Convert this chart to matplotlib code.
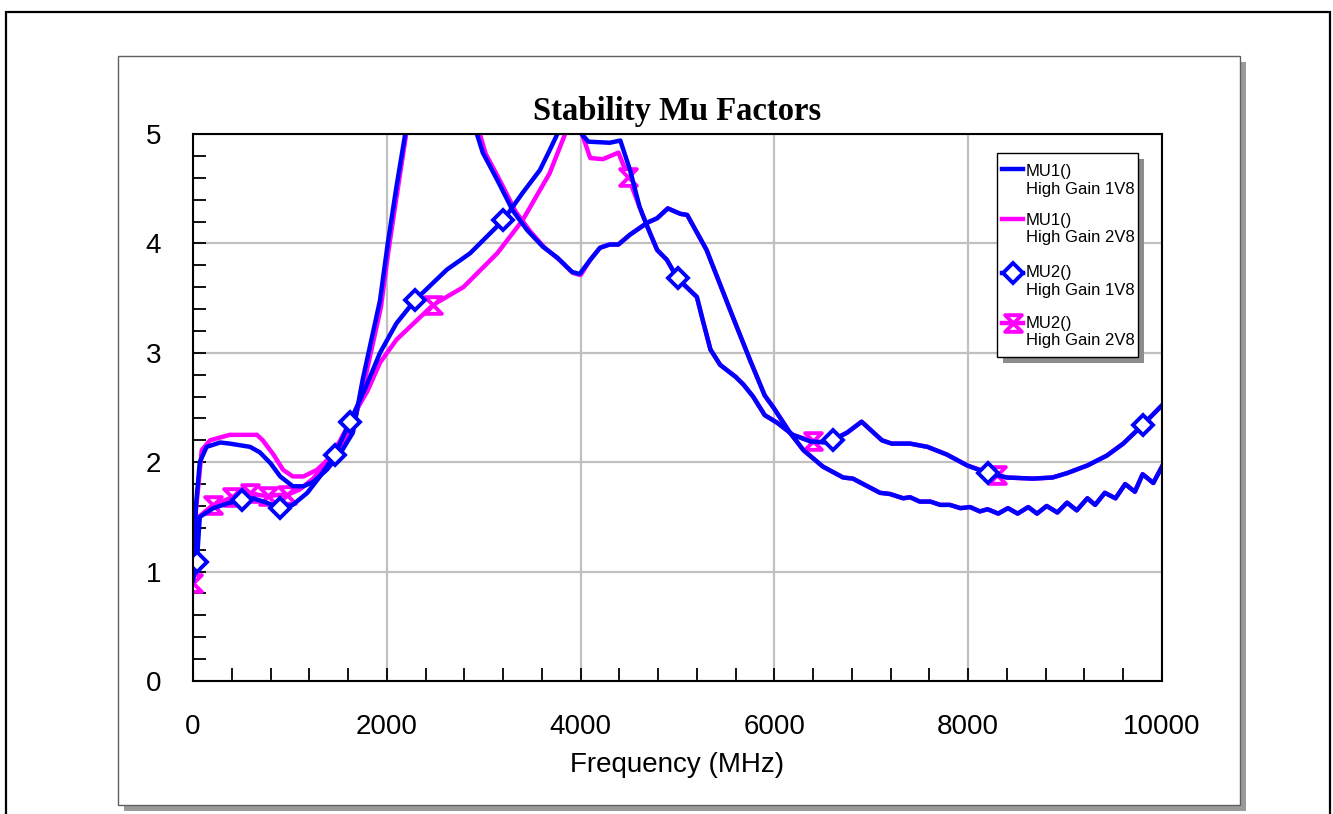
import matplotlib
matplotlib.use('Agg')
import matplotlib.pyplot as plt
from matplotlib.patches import Rectangle
from matplotlib.lines import Line2D
from matplotlib.path import Path
from matplotlib.ticker import MultipleLocator

# --- data (frequency in MHz, mu factor) ---
mu1_1v8_freq = [0, 30, 70, 140, 280, 380, 590, 690, 800, 900,
                1030, 1140, 1240, 1380, 1520, 1650, 1750, 1930, 2010, 2100,
                2190, 2400, 2600, 2800, 2930, 2990, 3140, 3300, 3450, 3610,
                3760, 3910, 3990, 4100, 4200, 4300, 4390, 4510, 4690, 4790,
                4900, 5030, 5100, 5300, 5570, 5750, 5900, 5990, 6160, 6300,
                6500, 6710, 6810, 7090, 7190, 7330, 7400, 7500, 7610, 7710,
                7810, 7920, 8020, 8120, 8200, 8310, 8410, 8510, 8620, 8710,
                8810, 8920, 9020, 9120, 9230, 9310, 9410, 9520, 9620, 9720,
                9800, 9910, 10000]
mu1_1v8 = [0.95, 1.60, 2.00, 2.14, 2.18, 2.17, 2.14, 2.09, 1.99, 1.87,
           1.78, 1.78, 1.82, 1.93, 2.08, 2.27, 2.75, 3.48, 4.00, 4.52,
           5.00, 6.30, 6.60, 5.70, 5.00, 4.83, 4.58, 4.30, 4.12, 3.97,
           3.87, 3.74, 3.72, 3.85, 3.96, 3.99, 3.99, 4.08, 4.19, 4.23,
           4.32, 4.27, 4.26, 3.94, 3.33, 2.93, 2.61, 2.50, 2.27, 2.11,
           1.96, 1.86, 1.85, 1.72, 1.71, 1.67, 1.68, 1.64, 1.64, 1.61,
           1.61, 1.58, 1.59, 1.55, 1.57, 1.53, 1.58, 1.53, 1.59, 1.53,
           1.60, 1.54, 1.63, 1.56, 1.67, 1.61, 1.72, 1.67, 1.80, 1.73,
           1.89, 1.81, 1.96]

# 2V8 MU1 differs below 4 GHz, then sits on top of the 1V8 trace
mu1_2v8_freq = [0, 30, 90, 175, 380, 660, 720, 830, 930, 1030,
                1140, 1280, 1410, 1520, 1650, 1760, 1940, 2020, 2110, 2200,
                2400, 2600, 2800, 2960, 3020, 3170, 3330, 3480, 3630, 3780,
                3920, 4000] + mu1_1v8_freq[33:]
mu1_2v8 = [0.92, 1.55, 2.11, 2.20, 2.25, 2.25, 2.20, 2.07, 1.93, 1.87,
           1.87, 1.93, 2.04, 2.15, 2.32, 2.70, 3.42, 3.95, 4.48, 5.00,
           6.20, 6.50, 5.70, 5.00, 4.82, 4.57, 4.29, 4.11, 3.96, 3.85,
           3.73, 3.71] + mu1_1v8[33:]

mu2_1v8_freq = [0, 40, 70, 210, 380, 506, 620, 760, 900, 1030,
                1180, 1310, 1465, 1620, 1780, 1930, 2100, 2290, 2620, 2860,
                3200, 3400, 3580, 3680, 3760, 3890, 4010, 4080, 4300, 4410,
                4510, 4610, 4690, 4790, 4890, 5000, 5200, 5260, 5340, 5440,
                5600, 5680, 5780, 5900, 6030, 6190, 6370, 6540, 6600, 6750,
                6900, 7110, 7210, 7400, 7580, 7780, 7990, 8200, 8400, 8670,
                8870, 9020, 9230, 9430, 9600, 9800, 10000]
mu2_1v8 = [0.92, 1.09, 1.50, 1.58, 1.63, 1.65, 1.67, 1.63, 1.58, 1.61,
           1.72, 1.87, 2.07, 2.37, 2.68, 3.00, 3.27, 3.48, 3.76, 3.91,
           4.21, 4.46, 4.67, 4.85, 5.00, 5.50, 5.00, 4.93, 4.92, 4.94,
           4.67, 4.33, 4.15, 3.94, 3.85, 3.68, 3.51, 3.30, 3.03, 2.89,
           2.78, 2.71, 2.60, 2.43, 2.36, 2.25, 2.19, 2.18, 2.20, 2.27,
           2.37, 2.20, 2.17, 2.17, 2.14, 2.07, 1.97, 1.90, 1.86, 1.85,
           1.86, 1.90, 1.97, 2.06, 2.17, 2.34, 2.52]
mu2_1v8_marks = [1, 5, 8, 12, 13, 17, 20, 35, 48, 57, 65]

mu2_2v8_freq = [0, 20, 60, 206, 300, 402, 500, 588, 680, 774,
                870, 970, 1100, 1240, 1380, 1520, 1650, 1800, 1930, 2100,
                2480, 2790, 3140, 3400, 3680, 3840, 3930, 4014, 4100, 4230,
                4390, 4490, 4610, 4690, 4790, 4890, 5000, 5200, 5260, 5340,
                5440, 5600, 5680, 5780, 5900, 6030, 6190, 6400, 6540, 6750,
                6900, 7110, 7210, 7400, 7580, 7780, 7990, 8300, 8400, 8670,
                8870, 9020, 9230, 9430, 9600, 9800, 10000]
mu2_2v8 = [0.90, 1.20, 1.50, 1.61, 1.64, 1.68, 1.70, 1.72, 1.70, 1.69,
           1.70, 1.70, 1.75, 1.85, 2.00, 2.20, 2.42, 2.65, 2.91, 3.12,
           3.44, 3.60, 3.91, 4.21, 4.64, 5.00, 5.30, 5.00, 4.78, 4.77,
           4.83, 4.61, 4.33, 4.15, 3.94, 3.85, 3.68, 3.51, 3.30, 3.03,
           2.89, 2.78, 2.71, 2.60, 2.43, 2.36, 2.25, 2.19, 2.18, 2.27,
           2.37, 2.20, 2.17, 2.17, 2.14, 2.07, 1.97, 1.88, 1.86, 1.85,
           1.86, 1.90, 1.97, 2.06, 2.17, 2.34, 2.52]
mu2_2v8_marks = [0, 3, 5, 7, 9, 11, 20, 31, 47, 57]

legend_rows = [("MU1()", "High Gain 1V8"), ("MU1()", "High Gain 2V8"),
               ("MU2()", "High Gain 1V8"), ("MU2()", "High Gain 2V8")]

BLUE = '#0000ff'
MAGENTA = '#ff00ff'
LW = 3.2

W, H = 1333, 814


def fx(x):
    return x / W


def fy(y):
    return 1 - y / H


hourglass = Path([(-1, 1), (1, 1), (-1, -1), (1, -1), (-1, 1)],
                 [Path.MOVETO, Path.LINETO, Path.LINETO, Path.LINETO, Path.CLOSEPOLY])

plt.rcParams['font.family'] = ['Liberation Sans', 'DejaVu Sans']
fig = plt.figure(figsize=(W / 100, H / 100), dpi=100)

# outer frame and the shadowed chart panel
fig.add_artist(Rectangle((fx(6), fy(830)), fx(1330) - fx(6), fy(12) - fy(830),
                         transform=fig.transFigure, fill=False, ec='black', lw=1.6, zorder=-3))
fig.add_artist(Rectangle((fx(124), fy(811)), fx(1246) - fx(124), fy(62) - fy(811),
                         transform=fig.transFigure, fc='#9a9a9a', ec='none', zorder=-2))
fig.add_artist(Rectangle((fx(118), fy(805)), fx(1240) - fx(118), fy(56) - fy(805),
                         transform=fig.transFigure, fc='white', ec='#606060', lw=1, zorder=-1))

ax = fig.add_axes([fx(193), fy(681), fx(1162) - fx(193), fy(134) - fy(681)])

ax.plot(mu1_2v8_freq, mu1_2v8, color=MAGENTA, lw=LW)
ax.plot(mu2_2v8_freq, mu2_2v8, color=MAGENTA, lw=LW, marker=hourglass, ms=12,
        mfc='white', mec=MAGENTA, mew=2.8, markevery=mu2_2v8_marks)
ax.plot(mu1_1v8_freq, mu1_1v8, color=BLUE, lw=LW)
ax.plot(mu2_1v8_freq, mu2_1v8, color=BLUE, lw=LW, marker='D', ms=10.5,
        mfc='white', mec=BLUE, mew=2.8, markevery=mu2_1v8_marks)

ax.set_xlim(0, 10000)
ax.set_ylim(0, 5)
ax.xaxis.set_major_locator(MultipleLocator(2000))
ax.xaxis.set_minor_locator(MultipleLocator(400))
ax.yaxis.set_major_locator(MultipleLocator(1))
ax.yaxis.set_minor_locator(MultipleLocator(0.2))
ax.grid(True, which='major', color='#c0c0c0', lw=1.6)
ax.set_axisbelow(True)
ax.tick_params(which='both', direction='in', length=9.5, width=1.3, color='black')
ax.tick_params(axis='x', which='major', pad=23.5, labelsize=20)
ax.tick_params(axis='y', which='major', pad=23, labelsize=20)
for s in ax.spines.values():
    s.set_linewidth(1.5)
    s.set_color('black')

ax.set_title('Stability Mu Factors', fontfamily='Liberation Serif', fontweight='bold',
             fontsize=23.5, pad=10)
ax.set_xlabel('Frequency (MHz)', fontsize=20, labelpad=9)

# legend box drawn by hand, like the original
fig.add_artist(Rectangle((fx(1003), fy(363)), fx(1144) - fx(1003), fy(159) - fy(363),
                         transform=fig.transFigure, fc='#8c8c8c', ec='none', zorder=5))
fig.add_artist(Rectangle((fx(997), fy(357)), fx(1138) - fx(997), fy(153) - fy(357),
                         transform=fig.transFigure, fc='white', ec='black', lw=1, zorder=6))
styles = [dict(color=BLUE), dict(color=MAGENTA),
          dict(color=BLUE, marker='D', ms=10.5, mfc='white', mec=BLUE, mew=2.8, markevery=[1]),
          dict(color=MAGENTA, marker=hourglass, ms=12, mfc='white', mec=MAGENTA, mew=2.8,
               markevery=[1])]
text_y = [171.7, 220.0, 272.7, 323.3]
line_y = [168.7, 219.0, 272.7, 322.7]
for (l1, l2), st, ty, ly in zip(legend_rows, styles, text_y, line_y):
    fig.add_artist(Line2D([fx(1002), fx(1012.5), fx(1023)], [fy(ly)] * 3,
                          transform=fig.transFigure, lw=LW, zorder=7, **st))
    fig.text(fx(1026), fy(ty), l1, fontsize=12, va='center', zorder=7)
    fig.text(fx(1026), fy(ty + 17.5), l2, fontsize=12, va='center', zorder=7)

fig.savefig('out.png', dpi=100)
